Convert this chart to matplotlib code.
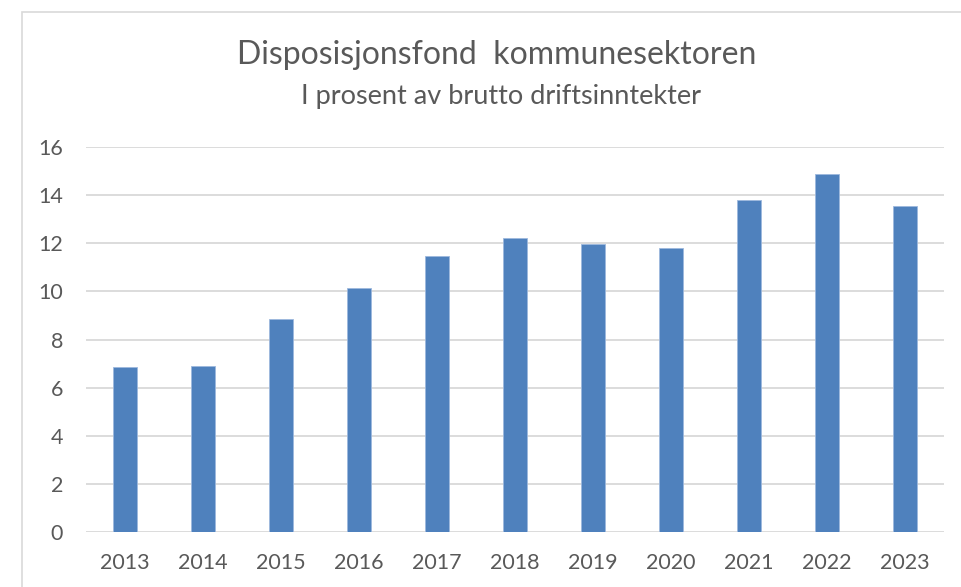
import matplotlib
matplotlib.use("Agg")
import matplotlib.pyplot as plt
from matplotlib.patches import Rectangle

years = ["2013", "2014", "2015", "2016", "2017", "2018", "2019", "2020", "2021", "2022", "2023"]
values = [6.84, 6.91, 8.86, 10.15, 11.47, 12.21, 11.95, 11.79, 13.78, 14.87, 13.53]
yticks = [0, 2, 4, 6, 8, 10, 12, 14, 16]
title = "Disposisjonsfond  kommunesektoren"
subtitle = "I prosent av brutto driftsinntekter"

plt.rcParams['font.family'] = ['Lato', 'DejaVu Sans']
W, H = 961, 587
fig = plt.figure(figsize=(W / 100, H / 100), dpi=100)
fig.patch.set_facecolor("white")

# chart border
fig.patches.append(Rectangle((22 / W, -0.05), 1.2, 1 - 12 / H + 0.05, transform=fig.transFigure,
                             fill=False, edgecolor="#D9D9D9", linewidth=1.2))

ax = fig.add_axes([86 / W, 1 - 532 / H, (944 - 86) / W, (532 - 147) / H])
x = range(len(years))
ax.bar(x, values, width=0.31, color="#4F81BD", edgecolor="#9DB8DD", linewidth=0.6, zorder=3)
ax.set_xlim(-0.5, len(years) - 0.5)
ax.set_ylim(0, 16)
ax.set_yticks(yticks)
ax.set_xticks(list(x))
ax.set_xticklabels(years)
ax.yaxis.grid(True, color="#D9D9D9", linewidth=1.3, zorder=0)
ax.set_axisbelow(True)
for s in ax.spines.values():
    s.set_visible(False)
ax.tick_params(axis="both", length=0, labelsize=15.5, colors="#595959")
ax.tick_params(axis="y", pad=16.5)
ax.tick_params(axis="x", pad=15)

fig.text(497 / W, 1 - 64 / H, title, ha="center", va="baseline", fontsize=23, color="#595959")
fig.text(501 / W, 1 - 104 / H, subtitle, ha="center", va="baseline", fontsize=19.5, color="#595959")

fig.savefig("out.png", dpi=100, facecolor="white")
